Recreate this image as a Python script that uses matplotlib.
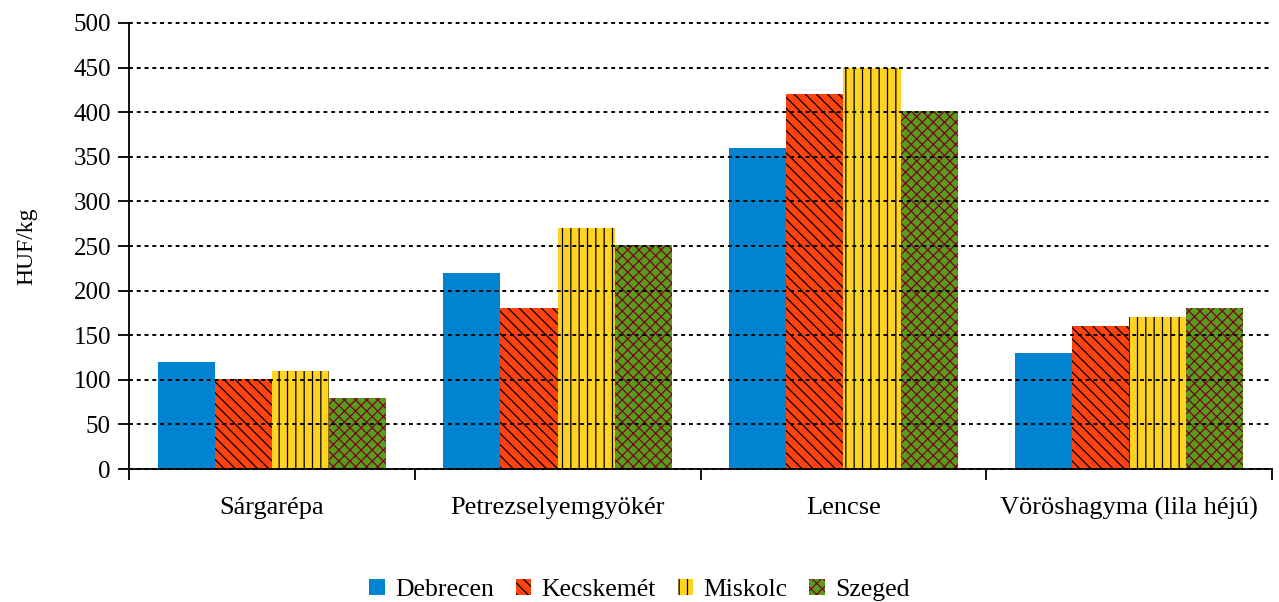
import matplotlib.pyplot as plt
import numpy as np

plt.rcParams['font.family'] = ['Liberation Serif', 'DejaVu Serif']
plt.rcParams['hatch.linewidth'] = 0.9

categories = ['Sárgarépa', 'Petrezselyemgyökér', 'Lencse', 'Vöröshagyma (lila héjú)']
cities = ['Debrecen', 'Kecskemét', 'Miskolc', 'Szeged']
debrecen = [120, 220, 360, 130]
kecskemet = [101, 180, 420, 160]
miskolc = [110, 270, 450, 170]
szeged = [80, 251, 401, 180]
values = [debrecen, kecskemet, miskolc, szeged]

colors = ['#0084D1', '#FF420E', '#FFD320', '#579D1C']
hatches = ['', '\\\\\\', '||', 'xxx']
hatch_colors = ['#0084D1', '#000000', '#000000', '#7E0021']

fig = plt.figure(figsize=(12.79, 6.02), dpi=100)
ax = fig.add_axes([0.1009, 0.2209, 0.8936, 0.7409])

x = np.arange(len(categories))
w = 0.2
for i, (city, vals) in enumerate(zip(cities, values)):
    ax.bar(x - 0.3 + i * w, vals, w, color=colors[i], hatch=hatches[i],
           edgecolor=hatch_colors[i], linewidth=0, label=city, zorder=2)

ax.set_xlim(-0.5, len(categories) - 0.5)
ax.set_ylim(0, 500)
ax.set_yticks(range(0, 501, 50))
ax.yaxis.grid(True, color='black', linestyle=(0, (2, 2)), linewidth=1.4, zorder=3)
for gl in ax.get_ygridlines():
    gl.set_clip_on(False)
ax.set_axisbelow(False)

ax.set_xticks(x)
ax.set_xticklabels(categories, fontsize=19)
ax.set_xticks(np.arange(len(categories) + 1) - 0.5, minor=True)
ax.tick_params(axis='x', which='major', length=0, pad=20)
ax.tick_params(axis='x', which='minor', length=8, width=1.3, direction='out')
ax.tick_params(axis='y', labelsize=18, length=8, width=1.3, direction='out', pad=5)

for s in ['top', 'right']:
    ax.spines[s].set_visible(False)
ax.spines['left'].set_linewidth(1.3)
ax.spines['bottom'].set_linewidth(1.3)
ax.spines['bottom'].set_zorder(4)

ax.set_ylabel('HUF/kg', fontsize=17, labelpad=26)

fig.legend(loc='lower center', bbox_to_anchor=(0.5, -0.037), ncol=4, frameon=False,
           fontsize=18.5, handlelength=0.6, handleheight=0.6, handletextpad=0.4,
           columnspacing=0.85)

plt.savefig('out.png')
